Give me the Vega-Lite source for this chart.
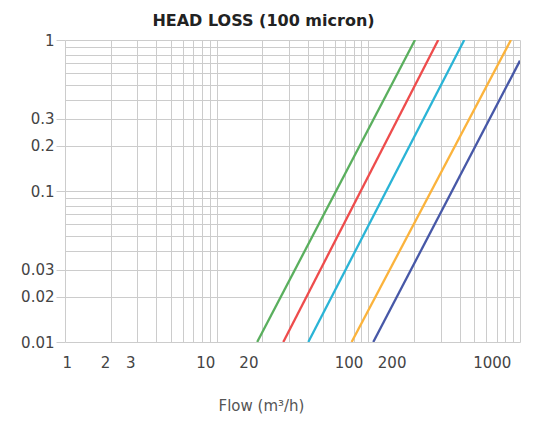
{
  "$schema": "https://vega.github.io/schema/vega-lite/v6.json",
  "width": 455,
  "height": 302,
  "autosize": {"type": "none"},
  "padding": {"left": 65, "top": 40, "right": 31, "bottom": 79},
  "background": "white",
  "title": {"text": "HEAD LOSS (100 micron)", "font": "DejaVu Sans", "fontSize": 16, "fontWeight": "bold", "color": "#222222", "anchor": "middle", "dx": -29, "offset": 4},
  "config": {"view": {"stroke": null}, "axis": {"labelFont": "DejaVu Sans", "titleFont": "DejaVu Sans"}},
  "data": {"values": [
    {"series": "S1", "flow": 18.5, "headloss": 0.01},
    {"series": "S1", "flow": 203, "headloss": 1},
    {"series": "S2", "flow": 27.5, "headloss": 0.01},
    {"series": "S2", "flow": 289, "headloss": 1},
    {"series": "S3", "flow": 40.2, "headloss": 0.01},
    {"series": "S3", "flow": 429, "headloss": 1},
    {"series": "S4", "flow": 77.6, "headloss": 0.01},
    {"series": "S4", "flow": 871, "headloss": 1},
    {"series": "S5", "flow": 107.8, "headloss": 0.01},
    {"series": "S5", "flow": 1000, "headloss": 0.73}
  ]},
  "layer": [
    {
      "mark": {"type": "line", "strokeWidth": 2.3, "clip": true},
      "encoding": {
        "x": {"field": "flow", "type": "quantitative",
          "scale": {"type": "log", "domain": [1, 1000], "nice": false},
          "axis": {"values": [1,2,3,4,5,6,7,8,9,10,20,30,40,50,60,70,80,90,100,200,300,400,500,600,700,800,900,1000],
            "grid": true, "gridColor": "#cccccc", "gridWidth": 1, "labels": false, "ticks": false, "domain": false, "title": null}},
        "y": {"field": "headloss", "type": "quantitative",
          "scale": {"type": "log", "domain": [0.01, 1], "nice": false},
          "axis": {"values": [0.01,0.02,0.03,0.04,0.05,0.06,0.07,0.08,0.09,0.1,0.2,0.3,0.4,0.5,0.6,0.7,0.8,0.9,1],
            "grid": true, "gridColor": "#cccccc", "gridWidth": 1, "domain": false, "title": null,
            "labelExpr": "indexof([1,0.3,0.2,0.1,0.03,0.02,0.01], datum.value) >= 0 ? format(datum.value, '~g') : ''",
            "tickColor": {"condition": {"test": "indexof([1,0.3,0.2,0.1,0.03,0.02,0.01], datum.value) >= 0", "value": "#cccccc"}, "value": "transparent"},
            "tickSize": 9, "labelPadding": 2, "labelFontSize": 15, "labelColor": "#444444"}},
        "color": {"field": "series", "type": "nominal",
          "scale": {"domain": ["S1","S2","S3","S4","S5"], "range": ["#5aaf5e","#ee4c4c","#2ab4d6","#fbb33c","#4758a7"]},
          "legend": null}
      }
    },
    {
      "mark": {"type": "point", "opacity": 0},
      "encoding": {
        "x": {"field": "flow", "type": "quantitative",
          "scale": {"type": "log", "domain": [1, 1500], "nice": false},
          "axis": {"orient": "bottom", "values": [1,2,3,10,20,100,200,1000], "grid": false, "ticks": false, "domain": false,
            "labelPadding": 13, "labelOffset": -3, "labelFontSize": 15, "labelColor": "#444444", "format": "~g",
            "title": "Flow (m³/h)", "titleFontSize": 15, "titleFontWeight": "normal", "titleColor": "#555555",
            "titleX": 196, "titleY": 68, "titleAlign": "center", "titleBaseline": "alphabetic"}}
      }
    }
  ],
  "resolve": {"scale": {"x": "independent"}}
}
